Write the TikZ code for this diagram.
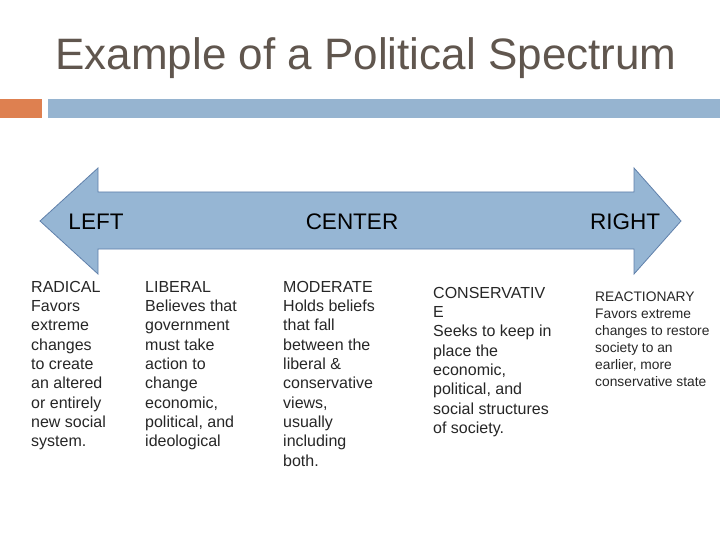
\documentclass[tikz,border=0pt]{standalone}
\usepackage{fontspec}
\setmainfont{Liberation Sans}
\definecolor{titlegrey}{RGB}{96,86,78}
\definecolor{barorange}{RGB}{222,128,80}
\definecolor{barblue}{RGB}{150,180,208}
\definecolor{arrowfill}{RGB}{150,182,212}
\definecolor{arrowline}{RGB}{96,128,170}
\tikzset{
  heading/.style={font=\fontsize{22.5}{26}\selectfont, text=black},
  coltext/.style={anchor=north west, align=left, inner sep=0pt,
    font=\fontsize{16}{19.3}\selectfont, text=black!85},
  smalltext/.style={anchor=north west, align=left, inner sep=0pt,
    font=\fontsize{13.8}{17}\selectfont, text=black!85}
}
\begin{document}
\begin{tikzpicture}[x=1pt, y=-1pt]
        \useasboundingbox (0, 0) rectangle (720, 540);
        \node[text=titlegrey, font=\fontsize{44}{50}\selectfont] (title) at (366, 58) {Example of a Political Spectrum};
        \fill[barorange] (0, 99) rectangle (42, 118);
        \fill[barblue] (48, 99) rectangle (720, 118);
        % double arrow
        \draw[fill=arrowfill, draw=arrowline, line width=0.8pt]
            (40, 221) -- (98, 168) -- (98, 192) -- (634, 192) -- (634, 168)
            -- (681, 221) -- (634, 274) -- (634, 249) -- (98, 249) -- (98, 274) -- cycle;
        \node[heading] (left) at (96, 222) {LEFT};
        \node[heading] (center) at (352, 222) {CENTER};
        \node[heading] (right) at (625, 222) {RIGHT};
        % columns
        \node[coltext] (radical) at (31, 281) {RADICAL\\Favors\\extreme\\changes\\to create\\an altered\\or entirely\\new social\\system.};
        \node[coltext] (liberal) at (145, 281) {LIBERAL\\Believes that\\government\\must take\\action to\\change\\economic,\\political, and\\ideological};
        \node[coltext] (moderate) at (283, 281) {MODERATE\\Holds beliefs\\that fall\\between the\\liberal \&\\conservative\\views,\\usually\\including\\both.};
        \node[coltext] (conservative) at (433, 287) {CONSERVATIV\\E\\Seeks to keep in\\place the\\economic,\\political, and\\social structures\\of society.};
        \node[smalltext] (reactionary) at (595, 292) {REACTIONARY\\Favors extreme\\changes to restore\\society to an\\earlier, more\\conservative state};
    \end{tikzpicture}
\end{document}
